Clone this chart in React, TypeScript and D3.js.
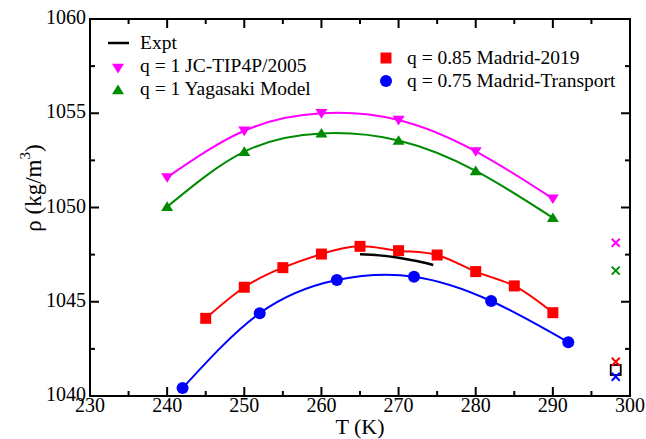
import React from 'react';
import * as d3 from 'd3';

// chart data
const tempJC = [240, 250, 260, 270, 280, 290];
const rhoJC = [1051.6, 1054.07, 1055.0, 1054.64, 1052.98, 1050.47];
const tempYag = [240, 250, 260, 270, 280, 290];
const rhoYag = [1050.04, 1052.96, 1053.93, 1053.55, 1051.94, 1049.45];
const tempM19 = [245, 250, 255, 260, 265, 270, 275, 280, 285, 290];
const rhoM19 = [1044.12, 1045.77, 1046.81, 1047.53, 1047.94, 1047.71, 1047.48, 1046.6, 1045.84, 1044.42];
const tempMT = [242, 252, 262, 272, 282, 292];
const rhoMT = [1040.42, 1044.39, 1046.15, 1046.33, 1045.04, 1042.85];
const tempExpt = [265, 267.5, 270, 272.5, 274.5];
const rhoExpt = [1047.52, 1047.46, 1047.34, 1047.15, 1046.95];

// single values at room temperature
const tRoom = 298.15;
const rhoRoomExpt = 1041.38;
const roomColors = ['#ff00ff', '#008b00', '#ff0000', '#0000ff'];
const rhoRoom = [1048.13, 1046.65, 1041.82, 1041.02];

const xTicks = [230, 240, 250, 260, 270, 280, 290, 300];
const yTicks = [1040, 1045, 1050, 1055, 1060];

const W = 646;
const H = 439;
const left = 90, right = 630, top = 19, bottom = 396;
const font = '"Liberation Serif", "DejaVu Serif", serif';

const x = d3.scaleLinear().domain([230, 300]).range([left, right]);
const y = d3.scaleLinear().domain([1040, 1060]).range([bottom, top]);

const line = d3.line<[number, number]>()
  .x(d => x(d[0]))
  .y(d => y(d[1]))
  .curve(d3.curveNatural);

const zip = (a: number[], b: number[]) => a.map((v, i) => [v, b[i]] as [number, number]);

function Marker({ kind, cx, cy, color }: { kind: string; cx: number; cy: number; color: string }) {
  const s = 6;
  if (kind === 'down')
    return <path d={`M${cx - s},${cy - s * 0.7}L${cx + s},${cy - s * 0.7}L${cx},${cy + s * 0.9}Z`} fill={color} />;
  if (kind === 'up')
    return <path d={`M${cx - s},${cy + s * 0.7}L${cx + s},${cy + s * 0.7}L${cx},${cy - s * 0.9}Z`} fill={color} />;
  if (kind === 'square')
    return <rect x={cx - 5.5} y={cy - 5.5} width={11} height={11} fill={color} />;
  if (kind === 'circle')
    return <circle cx={cx} cy={cy} r={6} fill={color} />;
  if (kind === 'cross')
    return <path d={`M${cx - 4},${cy - 4}L${cx + 4},${cy + 4}M${cx - 4},${cy + 4}L${cx + 4},${cy - 4}`} stroke={color} strokeWidth={2} />;
  return null;
}

const series = [
  { t: tempJC, r: rhoJC, color: '#ff00ff', kind: 'down' },
  { t: tempYag, r: rhoYag, color: '#008b00', kind: 'up' },
  { t: tempM19, r: rhoM19, color: '#ff0000', kind: 'square' },
  { t: tempMT, r: rhoMT, color: '#0000ff', kind: 'circle' },
];

export default function App() {
  const xMinor = d3.range(235, 300, 10);
  const yMinor = d3.range(1042.5, 1060, 5);
  return (
    <svg width={W} height={H} style={{ position: 'absolute', left: 0, top: 0, background: '#fff' }}
      fontFamily={font}>
      {/* curves and markers */}
      {series.map((s, i) => (
        <g key={i}>
          <path d={line(zip(s.t, s.r)) || ''} fill="none" stroke={s.color} strokeWidth={2} />
          {s.t.map((t, j) => (
            <Marker key={j} kind={s.kind} cx={x(t)} cy={y(s.r[j])} color={s.color} />
          ))}
        </g>
      ))}
      <path d={line(zip(tempExpt, rhoExpt)) || ''} fill="none" stroke="#000" strokeWidth={2.5} />

      {/* room temperature points */}
      <rect x={x(tRoom) - 5} y={y(rhoRoomExpt) - 5} width={10} height={10} fill="#fff" stroke="#000" strokeWidth={1.8} />
      {rhoRoom.map((r, i) => (
        <Marker key={i} kind="cross" cx={x(tRoom)} cy={y(r)} color={roomColors[i]} />
      ))}

      {/* frame and ticks */}
      <rect x={left} y={top} width={right - left} height={bottom - top} fill="none" stroke="#000" strokeWidth={2} />
      <g stroke="#000" strokeWidth={2}>
        {xTicks.map(t => (
          <g key={t}>
            <line x1={x(t)} x2={x(t)} y1={bottom} y2={bottom - 9} />
            <line x1={x(t)} x2={x(t)} y1={top} y2={top + 9} />
          </g>
        ))}
        {xMinor.map(t => (
          <g key={t}>
            <line x1={x(t)} x2={x(t)} y1={bottom} y2={bottom - 5} />
            <line x1={x(t)} x2={x(t)} y1={top} y2={top + 5} />
          </g>
        ))}
        {yTicks.map(v => (
          <g key={v}>
            <line x1={left} x2={left + 9} y1={y(v)} y2={y(v)} />
            <line x1={right} x2={right - 9} y1={y(v)} y2={y(v)} />
          </g>
        ))}
        {yMinor.map(v => (
          <g key={v}>
            <line x1={left} x2={left + 5} y1={y(v)} y2={y(v)} />
            <line x1={right} x2={right - 5} y1={y(v)} y2={y(v)} />
          </g>
        ))}
      </g>

      {/* tick labels */}
      <g fontSize={20} fill="#000">
        {xTicks.map(t => (
          <text key={t} x={x(t)} y={bottom + 16} textAnchor="middle">{t}</text>
        ))}
        {yTicks.map(v => (
          <text key={v} x={left - 4} y={y(v) + 5} textAnchor="end">{v}</text>
        ))}
      </g>

      {/* axis titles */}
      <text x={(left + right) / 2} y={434} textAnchor="middle" fontSize={22}>T (K)</text>
      <text transform={`translate(41,${188}) rotate(-90)`} textAnchor="middle" fontSize={23}>
        ρ (kg/m<tspan fontSize={15} dy={-11}>3</tspan><tspan dy={11}>)</tspan>
      </text>

      {/* legend */}
      <g fontSize={19.5}>
        <line x1={108} x2={129} y1={43} y2={43} stroke="#000" strokeWidth={2.5} />
        <text x={140} y={48.5}>Expt</text>
        <Marker kind="down" cx={118} cy={68} color="#ff00ff" />
        <text x={140} y={71.5}>q = 1 JC-TIP4P/2005</text>
        <Marker kind="up" cx={118} cy={90} color="#008b00" />
        <text x={140} y={94.5}>q = 1 Yagasaki Model</text>
        <Marker kind="square" cx={386} cy={58} color="#ff0000" />
        <text x={407} y={63.5}>q = 0.85 Madrid-2019</text>
        <Marker kind="circle" cx={386} cy={81} color="#0000ff" />
        <text x={407} y={86.5}>q = 0.75 Madrid-Transport</text>
      </g>
    </svg>
  );
}
